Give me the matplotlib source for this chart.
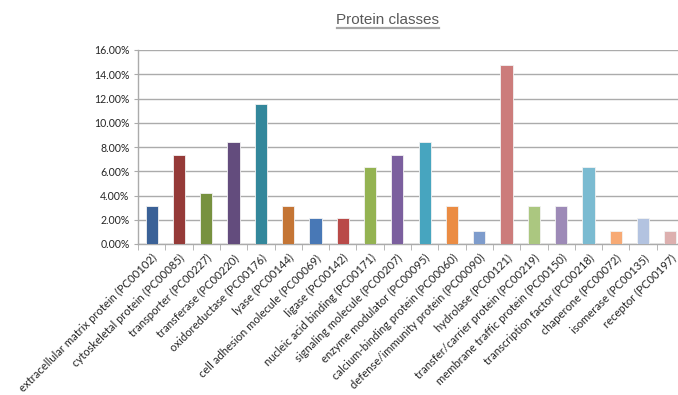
import numpy as np
import matplotlib
matplotlib.use("Agg")
import matplotlib.pyplot as plt
from matplotlib.lines import Line2D

categories = [
    "extracellular matrix protein (PC00102)",
    "cytoskeletal protein (PC00085)",
    "transporter (PC00227)",
    "transferase (PC00220)",
    "oxidoreductase (PC00176)",
    "lyase (PC00144)",
    "cell adhesion molecule (PC00069)",
    "ligase (PC00142)",
    "nucleic acid binding (PC00171)",
    "signaling molecule (PC00207)",
    "enzyme modulator (PC00095)",
    "calcium-binding protein (PC00060)",
    "defense/immunity protein (PC00090)",
    "hydrolase (PC00121)",
    "transfer/carrier protein (PC00219)",
    "membrane traffic protein (PC00150)",
    "transcription factor (PC00218)",
    "chaperone (PC00072)",
    "isomerase (PC00135)",
    "receptor (PC00197)",
]
percent = [3.16, 7.37, 4.21, 8.42, 11.58, 3.16, 2.11, 2.11, 6.32, 7.37,
           8.42, 3.16, 1.05, 14.74, 3.16, 3.16, 6.32, 1.05, 2.11, 1.05]
colors = ["#3A6197", "#953A38", "#77913F", "#634C7D", "#33879B",
          "#C47535", "#4878B6", "#B94A48", "#94B352", "#7B5F9E",
          "#47A5BF", "#EB8C43", "#7E9CCC", "#CC7C7B", "#ABC780",
          "#9D8AB7", "#7BBBD1", "#F7AA75", "#B3C3E0", "#DDB0AF"]
y_ticks = np.arange(0, 16.1, 2)

plt.rcParams['font.family'] = ['Lato', 'DejaVu Sans']

fig = plt.figure(figsize=(6.78, 3.95), dpi=100)
ax = fig.add_axes([138 / 678, 151 / 395, 546 / 678, 194 / 395])

x = np.arange(len(categories))
ax.bar(x, percent, width=0.45, color=colors, edgecolor="#F2F2F2",
       linewidth=0.6, zorder=3)

ax.set_xlim(-0.5, len(categories) - 0.5)
ax.set_ylim(0, 16)
ax.set_yticks(y_ticks)
ax.set_yticklabels([f"{v:.2f}%" for v in y_ticks], fontsize=7.6, color="#262626")
ax.yaxis.grid(True, color="#ABABAB", linewidth=1.0, zorder=0)
ax.tick_params(axis="y", length=3, color="#ABABAB", pad=3)

ax.set_xticks(x)
ax.set_xticklabels(categories, rotation=45, ha="right", va="top",
                   rotation_mode="anchor", fontsize=8.1, color="#262626")
ax.tick_params(axis="x", which="major", length=0, pad=6)
ax.set_xticks(np.arange(-0.5, len(categories) + 0.5, 1), minor=True)
ax.tick_params(axis="x", which="minor", length=4, color="#ABABAB")

for side in ["top", "right"]:
    ax.spines[side].set_visible(False)
for side in ["left", "bottom"]:
    ax.spines[side].set_color("#ABABAB")
    ax.spines[side].set_linewidth(1.0)

title = fig.text(388 / 678, 1 - 20 / 395, "Protein classes", ha="center",
                 va="center", fontsize=11, color="#595959",
                 family=["Liberation Sans", "DejaVu Sans"])

# underline under the title
fig.canvas.draw()
bb = title.get_window_extent().transformed(fig.transFigure.inverted())
fig.add_artist(Line2D([bb.x0, bb.x1], [bb.y0 - 0.002, bb.y0 - 0.002],
                      transform=fig.transFigure, color="#A6A6A6", linewidth=1.6))

fig.savefig("out.png", dpi=100)
